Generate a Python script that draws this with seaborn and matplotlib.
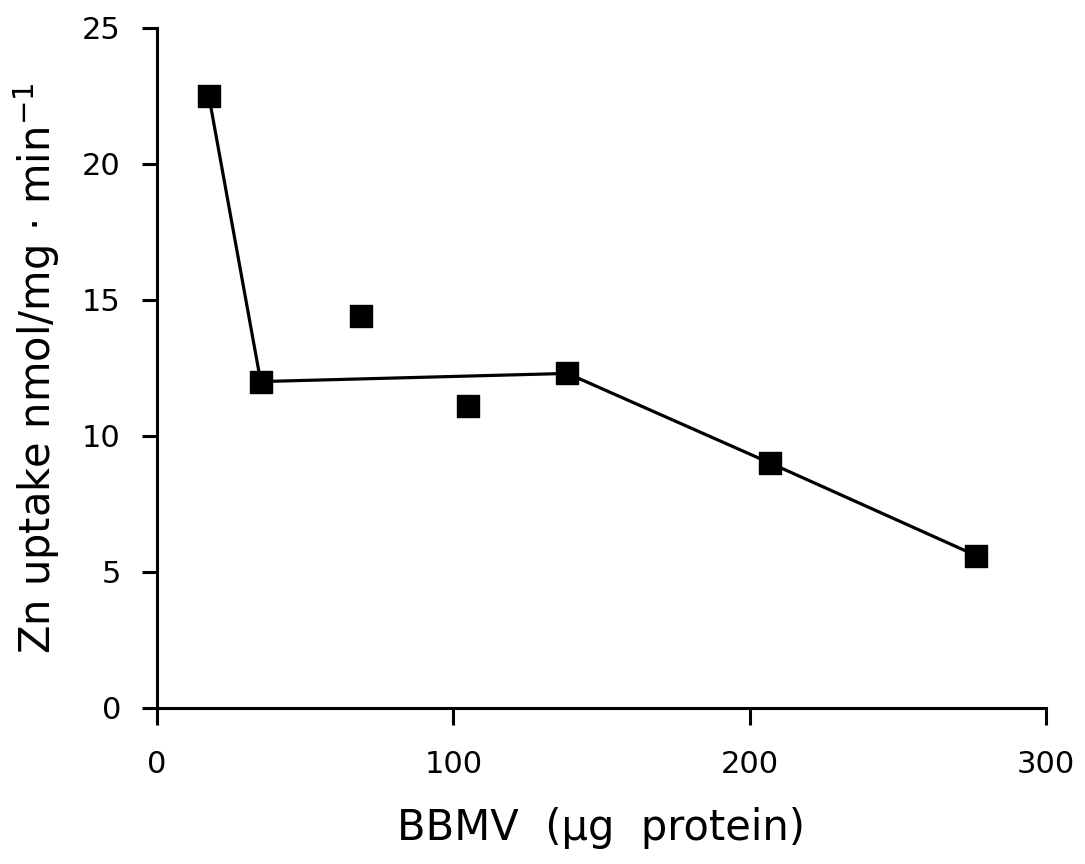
import matplotlib
matplotlib.use("Agg")
import matplotlib.pyplot as plt
import seaborn as sns
import pandas as pd

# BBMV protein amount (µg) and zinc uptake (nmol/mg·min)
bbmv_protein = [17.5, 35, 69, 105, 138.5, 207, 276.5]
zn_uptake = [22.5, 12.0, 14.4, 11.1, 12.3, 9.0, 5.6]
# points joined by the trend line
line_protein = [17.5, 35, 138.5, 207, 276.5]
line_uptake = [22.5, 12.0, 12.3, 9.0, 5.6]

x_ticks = [0, 100, 200, 300]
y_ticks = [0, 5, 10, 15, 20, 25]

sns.set_style("ticks")
plt.rcParams["font.family"] = ["DejaVu Sans"]
plt.rcParams["mathtext.fontset"] = "dejavusans"

fig = plt.figure(figsize=(10.85, 8.64), dpi=100)
ax = fig.add_axes([0.1447, 0.1806, 0.8193, 0.787])

pts = pd.DataFrame({"protein": bbmv_protein, "uptake": zn_uptake})
trend = pd.DataFrame({"protein": line_protein, "uptake": line_uptake})

sns.lineplot(data=trend, x="protein", y="uptake", ax=ax, color="black",
             linewidth=2.3, sort=False)
sns.scatterplot(data=pts, x="protein", y="uptake", ax=ax, marker="s",
                s=230, color="black", edgecolor="black", linewidth=1, zorder=3)

ax.set_xlim(0, 300)
ax.set_ylim(0, 25)
ax.set_xticks(x_ticks)
ax.set_yticks(y_ticks)
ax.set_xticklabels([str(v) for v in x_ticks])
ax.set_yticklabels([str(v) for v in y_ticks])

sns.despine(ax=ax)
for side in ("left", "bottom"):
    ax.spines[side].set_linewidth(2.2)
    ax.spines[side].set_color("black")

ax.tick_params(axis="x", direction="out", length=12, width=2.2, pad=18,
               labelsize=22, colors="black")
ax.tick_params(axis="y", direction="out", length=11, width=2.2, pad=15,
               labelsize=22, colors="black")

ax.set_xlabel("BBMV  (μg  protein)", fontsize=30, color="black")
ax.set_ylabel("Zn uptake nmol/mg · min$^{\\mathregular{-1}}$",
              fontsize=30, color="black")
ax.xaxis.set_label_coords(0.5, -0.145)
ax.yaxis.set_label_coords(-0.107, 0.5)

fig.savefig("out.png", dpi=100, facecolor="white")
